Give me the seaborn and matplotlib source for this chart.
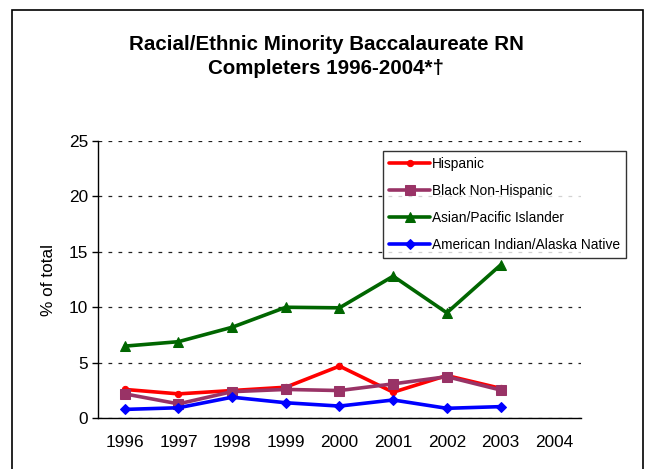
import numpy as np
import pandas as pd
import matplotlib
matplotlib.use("Agg")
import matplotlib.pyplot as plt
import seaborn as sns
from matplotlib.patches import Rectangle

sns.set_style("white")
plt.rcParams["font.family"] = ["Liberation Sans", "DejaVu Sans"]
plt.rcParams["text.color"] = "black"
plt.rcParams["axes.labelcolor"] = "black"
plt.rcParams["xtick.color"] = "black"
plt.rcParams["ytick.color"] = "black"

# Data
years = [1996, 1997, 1998, 1999, 2000, 2001, 2002, 2003]
all_years = [1996, 1997, 1998, 1999, 2000, 2001, 2002, 2003, 2004]
hispanic = [2.6, 2.2, 2.5, 2.8, 4.7, 2.35, 3.85, 2.7]
black = [2.2, 1.3, 2.4, 2.6, 2.5, 3.1, 3.75, 2.55]
asian = [6.5, 6.9, 8.2, 10.0, 9.95, 12.8, 9.5, 13.8]
aian = [0.8, 0.95, 1.9, 1.4, 1.1, 1.65, 0.9, 1.05]

groups = ["Hispanic", "Black Non-Hispanic", "Asian/Pacific Islander",
          "American Indian/Alaska Native"]
colors = ["#FF0000", "#993366", "#006600", "#0000FF"]
markers = ["o", "s", "^", "D"]
msizes = [4.5, 6.5, 6.5, 5.5]

df = pd.DataFrame({
    "year": years * 4,
    "pct": hispanic + black + asian + aian,
    "group": np.repeat(groups, len(years)),
})

fig = plt.figure(figsize=(6.45, 4.69), dpi=100)
ax = fig.add_axes([0.1519, 0.1081, 0.7489, 0.5919])

for g, c, m, ms in zip(groups, colors, markers, msizes):
    sns.lineplot(data=df[df.group == g], x="year", y="pct", color=c,
                 marker=m, markersize=ms, markeredgecolor=c, linewidth=2.6,
                 label=g, ax=ax, legend=False)

ax.set_xlim(1995.5, 2004.5)
ax.set_ylim(0, 25)
ax.set_xticks(all_years)
ax.set_xticklabels([str(y) for y in all_years])
ax.set_yticks([0, 5, 10, 15, 20, 25])
ax.tick_params(axis="x", length=0, pad=12, labelsize=12.4)
ax.tick_params(axis="y", length=4, width=1, direction="out", pad=3,
               labelsize=12.4, left=True)
ax.set_xlabel("")
ax.set_ylabel("% of total", fontsize=12.4, labelpad=9)
ax.yaxis.grid(True, linestyle=(0, (3, 5)), color="#222222", linewidth=0.9)
ax.xaxis.grid(False)
for s in ["top", "right"]:
    ax.spines[s].set_visible(False)
for s in ["left", "bottom"]:
    ax.spines[s].set_color("black")
    ax.spines[s].set_linewidth(1)

fig.suptitle("Racial/Ethnic Minority Baccalaureate RN\nCompleters 1996-2004*\u2020",
             x=0.506, y=0.925, fontsize=14.8, fontweight="bold", linespacing=1.3)

handles, labels = ax.get_legend_handles_labels()
leg = fig.legend(handles, labels, loc="upper left",
                 bbox_to_anchor=(383 / 645, 1 - 151 / 469),
                 fontsize=9.9, frameon=True, fancybox=False, edgecolor="black",
                 handlelength=3.0, handletextpad=0.1, labelspacing=0.93,
                 borderpad=0.45, borderaxespad=0)
leg.get_frame().set_linewidth(1)

fig.patches.append(Rectangle((12 / 645, -0.05), (643 - 12) / 645, 1.05 - 10 / 469,
                             transform=fig.transFigure, fill=False,
                             edgecolor="black", linewidth=1.2))

fig.savefig("out.png", dpi=100, facecolor="white")
